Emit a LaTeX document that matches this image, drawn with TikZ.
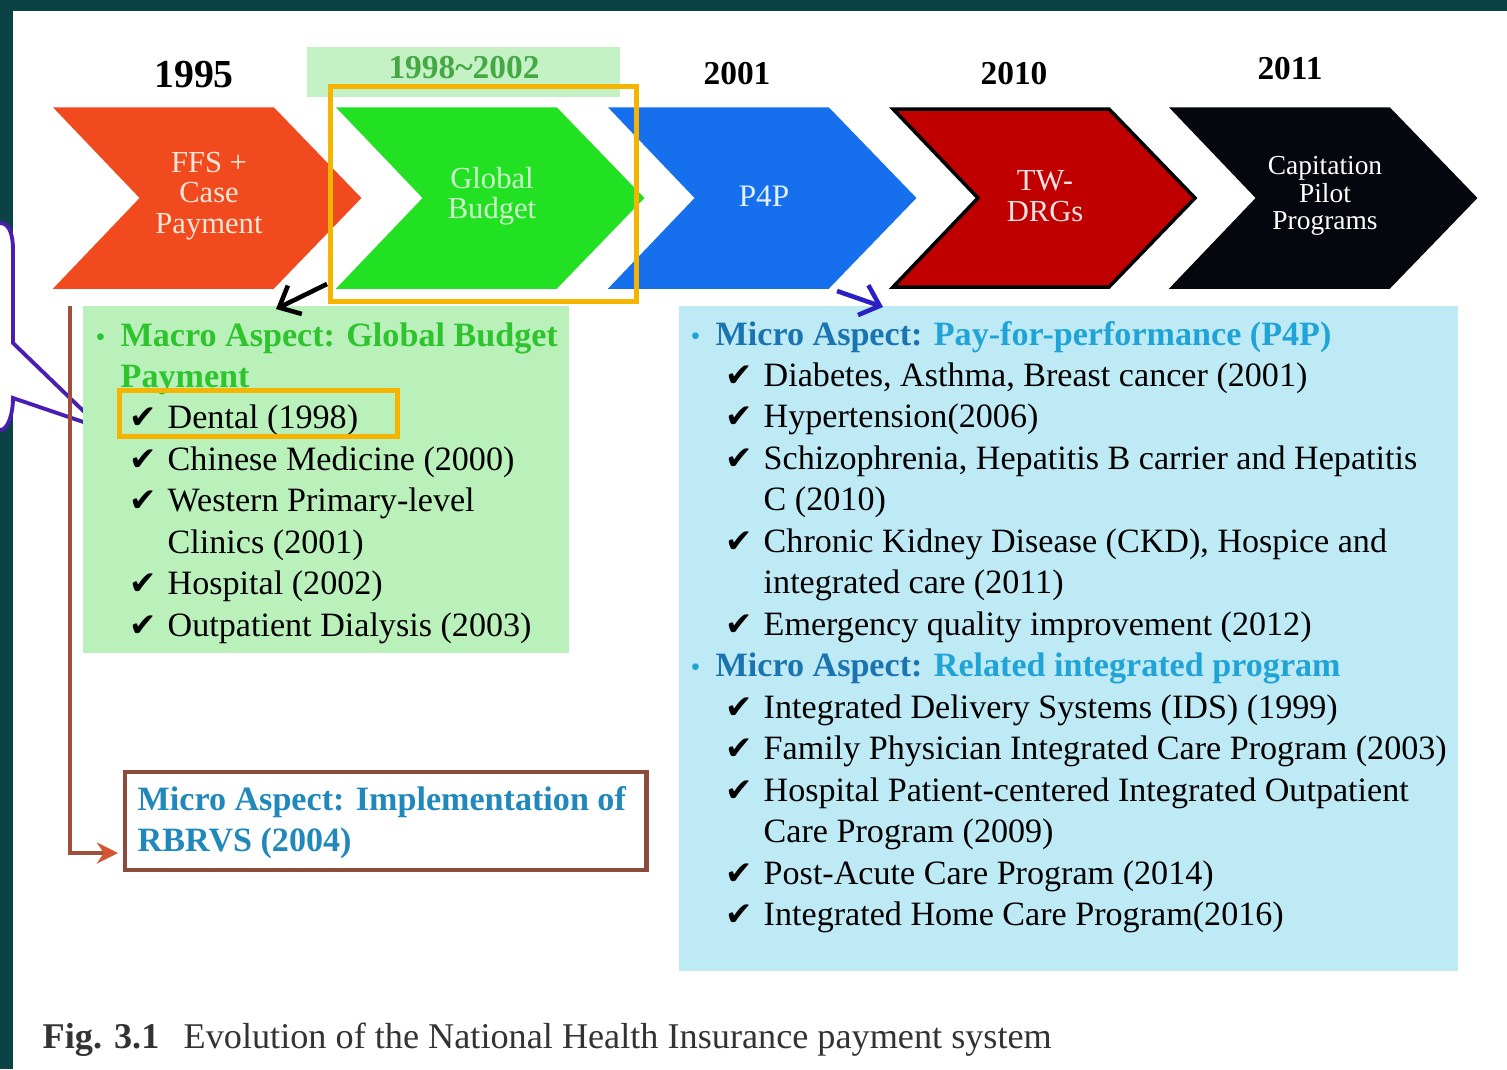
\documentclass[tikz,border=0pt]{standalone}
\usepackage{fontspec}
\setmainfont{Liberation Serif}
\newfontfamily\symf{DejaVu Sans}
\usepackage{xcolor}
\usepackage{tikz}
\usetikzlibrary{arrows.meta,calc}

\definecolor{frame}{HTML}{0A4246}
\definecolor{callout}{HTML}{4A1EB0}
\definecolor{cffs}{HTML}{F04A1E}
\definecolor{cgb}{HTML}{22E022}
\definecolor{cpfp}{HTML}{1670EE}
\definecolor{cdrg}{HTML}{C00000}
\definecolor{ccap}{HTML}{06060E}
\definecolor{tffs}{HTML}{FFE6D6}
\definecolor{tgb}{HTML}{CCF8CC}
\definecolor{tpfp}{HTML}{E2F0FF}
\definecolor{tdrg}{HTML}{FFE2E2}
\definecolor{hlorange}{HTML}{F5B400}
\definecolor{yrbg}{HTML}{C4F2C4}
\definecolor{yrgreen}{HTML}{45A845}
\definecolor{gbbg}{HTML}{BAF0BA}
\definecolor{gbhead}{HTML}{2EC42E}
\definecolor{pbbg}{HTML}{BEEAF5}
\definecolor{pbdark}{HTML}{1A74B0}
\definecolor{pblight}{HTML}{20A4D8}
\definecolor{rbtxt}{HTML}{2088BA}
\definecolor{rbline}{HTML}{8C4C3C}
\definecolor{brline}{HTML}{A0503A}
\definecolor{brhead}{HTML}{D45530}
\definecolor{blarrow}{HTML}{2A20C4}
\definecolor{captxt}{HTML}{333333}

\begin{document}
\begin{tikzpicture}[x=0.01cm,y=-0.01cm]
            \tikzset{yr/.style = {inner sep=0pt, font=\bfseries\fontsize{9.5}{11}\selectfont}}
            \tikzset{chvtxt/.style = {align=center, inner sep=0pt}}
            \tikzset{box/.style = {anchor=north west, inner sep=0pt}}
            \tikzset{hl/.style = {draw=hlorange, line width=1.4pt, anchor=north west, inner sep=0pt}}
            \tikzset{head/.style = {anchor=base west, inner sep=0pt, font=\bfseries\fontsize{9.7}{11.7}\selectfont}}
            \tikzset{itm/.style = {anchor=base west, inner sep=0pt, font=\fontsize{9.7}{11.7}\selectfont}}
            \tikzset{tick/.style = {anchor=base west, inner sep=0pt, font=\symf\fontsize{9.3}{10}\selectfont}}
            \tikzset{bul/.style = {anchor=base west, inner sep=0pt, font=\fontsize{8}{8}\selectfont}}
            \tikzset{captext/.style = {anchor=base west, inner sep=0pt, text=captxt, font=\fontsize{10.3}{12}\selectfont}}

            \useasboundingbox (0,0) rectangle (1507,1069);

            % frame and callout
            \fill[frame] (0,0) rectangle (1507,11);
            \fill[frame] (0,0) rectangle (13,1069);
            \fill[white] (0,223) .. controls (10,223) and (13,236) .. (13,250) -- (13,343) -- (101,428) -- (13,398) .. controls (13,414) and (8,430) .. (0,430) -- cycle;
            \draw[callout, line width=1.1pt] (0,223) .. controls (10,223) and (13,236) .. (13,250) -- (13,343) -- (101,428) -- (13,398) .. controls (13,414) and (8,430) .. (0,430);

            % years
            \fill[yrbg] (307,47) rectangle (620,97);
            \node[yr, font=\bfseries\fontsize{11.3}{13}\selectfont] (yr1) at (194,75) {1995};
            \node[yr, text=yrgreen] (yr2) at (464,68) {1998\textasciitilde 2002};
            \foreach \x/\y/\t [count=\i from 3] in {737/74/2001, 1014/74/2010, 1290/69/2011}
            {
              \node[yr] (yr\i) at (\x,\y) {\t};
            }

            % chevrons
            \foreach \x/\c/\d/\tc/\fs/\lab [count=\i] in {57/cffs/cffs/tffs/8.7/{FFS +\\Case\\Payment}, 340/cgb/cgb/tgb/8.7/{Global\\Budget}, 612/cpfp/cpfp/tpfp/8.9/P4P, 893/cdrg/black/tdrg/8.7/{TW-\\DRGs}, 1173/ccap/ccap/white/7.8/{Capitation\\Pilot\\Programs}}
            {
              \filldraw[fill=\c, draw=\d, line width=1pt] (\x,109) -- ++(216,0) -- ++(86,89) -- ++(-86,89) -- ++(-216,0) -- ++(85,-89) -- cycle;
              \node[chvtxt, text=\tc, font=\fontsize{\fs}{\fs}\selectfont] (chv\i) at (\x+152,196) {\lab};
            }
            \node[hl, minimum width=3.06cm, minimum height=2.15cm] (gbhl) at (328,84) {};

            % boxes
            \node[box, fill=gbbg, minimum width=4.86cm, minimum height=3.47cm] (gbox) at (82,305) {};
            \node[box, fill=pbbg, minimum width=7.79cm, minimum height=6.65cm] (pbox) at (678,305) {};
            \node[box, fill=white, draw=rbline, line width=1.2pt, minimum width=5.21cm, minimum height=0.98cm] (rbox) at (123,770) {};

            % arrows
            \coordinate (gbfoot) at (327,284);
            \coordinate (gbtip) at (276,309);
            \coordinate (pfoot) at (837,291);
            \coordinate (ptip) at (883,307);
            \coordinate (brtop) at (70,306);
            \coordinate (brend) at (118,853);
            \draw[line width=1.3pt, -{Straight Barb[length=5pt,width=9pt]}] (gbfoot) -- (gbtip);
            \draw[blarrow, line width=1.3pt, -{Straight Barb[length=5pt,width=9pt]}] (pfoot) -- (ptip);
            \draw[brline, line width=1.1pt, -{Stealth[length=6pt,width=6pt,color=brhead]}] (brtop) |- (brend);

            % global budget list
            \node[bul, text=gbhead] (gbb) at (95,346) {•};
            \node[head, text=gbhead] (gbh1) at (120,346) {Macro Aspect: Global Budget};
            \node[head, text=gbhead] (gbh2) at (120,387) {Payment};
            \foreach \y [count=\i] in {428,470,511,594,636}
            {
              \node[tick] (gbt\i) at (129,\y) {✔};
            }
            \foreach \y/\t [count=\i] in {428/Dental (1998), 470/Chinese Medicine (2000), 511/Western Primary-level, 553/Clinics (2001), 594/Hospital (2002), 636/Outpatient Dialysis (2003)}
            {
              \node[itm] (gbi\i) at (167,\y) {\t};
            }
            \node[hl, minimum width=2.78cm, minimum height=0.46cm] (dhl) at (117,388) {};

            % p4p and integrated list
            \node[bul, text=pblight] (pbb1) at (690,345) {•};
            \node[head] (pbh1) at (715,345) {\textcolor{pbdark}{Micro Aspect:} \textcolor{pblight}{Pay-for-performance (P4P)}};
            \node[bul, text=pblight] (pbb2) at (690,676) {•};
            \node[head] (pbh2) at (715,676) {\textcolor{pbdark}{Micro Aspect:} \textcolor{pblight}{Related integrated program}};
            \foreach \y [count=\i] in {386,427,469,552,635,718,759,801,884,925}
            {
              \node[tick] (pbt\i) at (725,\y) {✔};
            }
            \foreach \y/\t [count=\i] in {386/{Diabetes, Asthma, Breast cancer (2001)}, 427/Hypertension(2006), 469/{Schizophrenia, Hepatitis B carrier and Hepatitis}, 510/C (2010), 552/{Chronic Kidney Disease (CKD), Hospice and}, 593/integrated care (2011), 635/Emergency quality improvement (2012), 718/Integrated Delivery Systems (IDS) (1999), 759/Family Physician Integrated Care Program (2003), 801/Hospital Patient-centered Integrated Outpatient, 842/Care Program (2009), 884/Post-Acute Care Program (2014), 925/Integrated Home Care Program(2016)}
            {
              \node[itm] (pbi\i) at (763,\y) {\t};
            }

            % rbrvs
            \node[head, text=rbtxt] (rbt1) at (137,810) {Micro Aspect: Implementation of};
            \node[head, text=rbtxt] (rbt2) at (137,851) {RBRVS (2004)};

            % caption
            \node[captext, font=\bfseries\fontsize{10.3}{12}\selectfont] (capfig) at (42,1048) {Fig. 3.1};
            \node[captext] (capline) at (183,1048) {Evolution of the National Health Insurance payment system};

          \end{tikzpicture}
\end{document}
